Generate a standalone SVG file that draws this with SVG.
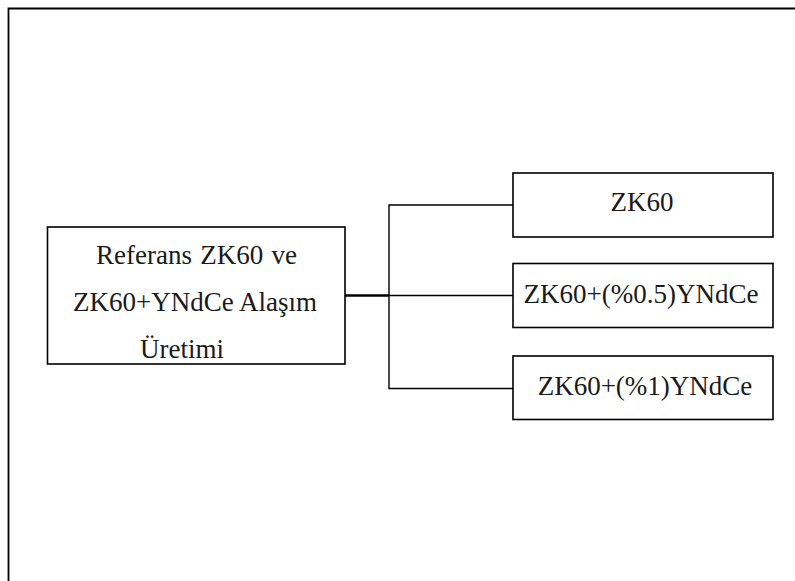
<svg xmlns="http://www.w3.org/2000/svg" width="795" height="581" viewBox="0 0 795 581">
<style>
.box{fill:#fff;stroke:#000;stroke-width:1.6}
.t{font-family:"Liberation Serif","Times New Roman",serif;font-size:27px;fill:#1a1a1a}
.c{text-anchor:middle}
.ln{fill:none;stroke:#000;stroke-width:1.4}
</style>
<rect width="795" height="581" fill="#fff"/>
<path d="M8.5 581 V8.5 H795" fill="none" stroke="#000" stroke-width="1.8"/>
<g id="connectors">
<path class="ln" d="M389 295.5 H513 M513 205 H389 V388.5 H513"/>
<path d="M345 295.5 H389" stroke="#000" stroke-width="2.6" fill="none"/>
</g>
<g id="node-root">
<rect class="box" x="47.5" y="227" width="297.5" height="137"/>
<text class="t" x="96" y="264" word-spacing="1.5">Referans ZK60 ve</text>
<text class="t" x="73" y="311">ZK60+YNdCe Alaşım</text>
<text class="t" x="140" y="358">Üretimi</text>
</g>
<g id="node-zk60">
<rect class="box" x="513" y="173" width="260" height="64"/>
<text class="t c" x="642" y="211">ZK60</text>
</g>
<g id="node-zk60-05">
<rect class="box" x="513" y="263.5" width="260" height="64"/>
<text class="t c" x="641" y="303">ZK60+(%0.5)YNdCe</text>
</g>
<g id="node-zk60-1">
<rect class="box" x="513" y="356" width="260" height="63.5"/>
<text class="t c" x="645" y="395">ZK60+(%1)YNdCe</text>
</g>
</svg>
